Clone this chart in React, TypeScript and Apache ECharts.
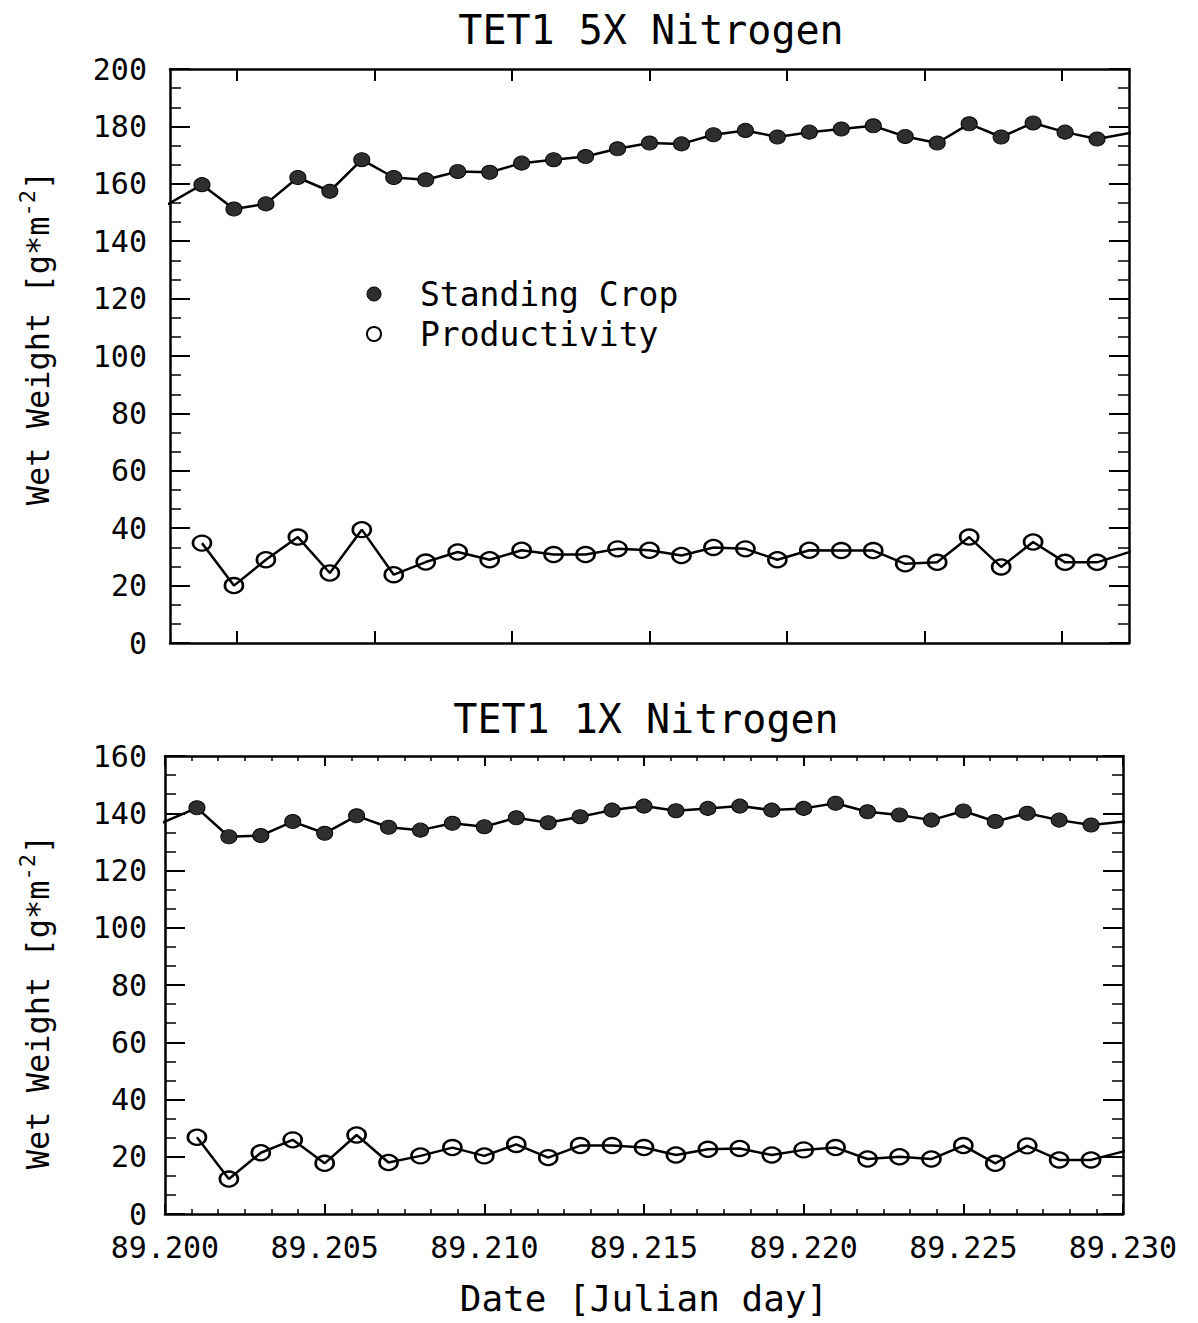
import React, { useEffect, useRef } from 'react';
import * as echarts from 'echarts';

// ---------- data ----------
const sampleDays = [
  89.201, 89.202, 89.203, 89.204, 89.205, 89.206, 89.207, 89.208, 89.209, 89.21,
  89.211, 89.212, 89.213, 89.214, 89.215, 89.216, 89.217, 89.218, 89.219, 89.22,
  89.221, 89.222, 89.223, 89.224, 89.225, 89.226, 89.227, 89.228, 89.229,
];
// neighbouring samples just outside the plotted window (only their connecting lines show)
const edgeDays = [89.1999, 89.2301];

const crop5X = [
  159.7, 151.2, 153.0, 162.2, 157.4, 168.4, 162.2, 161.4, 164.3, 164.0,
  167.2, 168.4, 169.5, 172.2, 174.2, 173.9, 177.1, 178.6, 176.3, 178.0,
  179.1, 180.2, 176.5, 174.2, 180.9, 176.3, 181.2, 178.0, 175.6,
];
const crop5XEdges = [152.7, 177.9];
const prod5X = [
  34.8, 20.0, 29.0, 36.9, 24.4, 39.5, 23.8, 28.2, 31.7, 29.0,
  32.3, 30.8, 30.8, 32.8, 32.3, 30.5, 33.3, 32.8, 29.0, 32.3,
  32.2, 32.2, 27.6, 28.1, 36.9, 26.5, 35.2, 28.1, 28.1,
];
const prod5XTail = 32.0;

const crop1X = [
  141.9, 131.8, 132.2, 137.1, 133.0, 139.1, 135.1, 134.1, 136.5, 135.3,
  138.4, 136.7, 138.8, 141.1, 142.5, 140.9, 141.7, 142.5, 141.1, 141.7,
  143.5, 140.5, 139.4, 137.6, 140.8, 137.1, 140.0, 137.6, 135.9,
];
const crop1XEdges = [136.6, 137.2];
const prod1X = [
  26.8, 12.2, 21.4, 25.9, 17.7, 27.6, 18.0, 20.3, 23.2, 20.3,
  24.3, 19.7, 23.9, 23.9, 23.2, 20.6, 22.6, 22.9, 20.6, 22.4,
  23.2, 19.2, 20.0, 19.2, 23.9, 17.7, 23.8, 18.9, 18.9,
];
const prod1XTail = 22.1;

// frame tick positions of the upper panel (unlabelled)
const topFrameTickDays = [89.2021, 89.2064, 89.2107, 89.215, 89.2193, 89.2236, 89.2279];

const titles = ['TET1 5X Nitrogen', 'TET1 1X Nitrogen'];
const seriesNames = ['Standing Crop', 'Productivity'];
const yAxisTitle = '{n|Wet Weight [g*m}{s|-2}{n|]}';
const xAxisTitle = 'Date [Julian day]';

// ---------- styling ----------
const FONT = "'DejaVu Sans Mono', 'Liberation Mono', monospace";
const BLACK = '#000';

function pairs(days: number[], vals: number[]) {
  return days.map((d, i) => [d, vals[i]]);
}

const cropStyle = {
  type: 'line' as const,
  symbol: 'circle',
  symbolSize: [16, 14],
  itemStyle: { color: '#2e2e2e', borderColor: BLACK, borderWidth: 1 },
  lineStyle: { color: BLACK, width: 2.5 },
  clip: true,
};
const prodStyle = {
  type: 'line' as const,
  symbol: 'circle',
  symbolSize: [18, 15],
  itemStyle: { color: 'rgba(0,0,0,0)', borderColor: BLACK, borderWidth: 2.5 },
  lineStyle: { color: BLACK, width: 2.5 },
  clip: true,
};

const axisLine = { show: true, onZero: false, lineStyle: { color: BLACK, width: 2.5 } };

function yAxisFor(
  gridIndex: number,
  max: number,
  position: 'left' | 'right',
  labelMargin: number,
  nameGap: number,
  namePadding: number[],
) {
  const left = position === 'left';
  return {
    type: 'value',
    gridIndex,
    position,
    min: 0,
    max,
    interval: 20,
    axisLine,
    axisTick: { show: true, inside: true, length: 20, lineStyle: { color: BLACK, width: 2 } },
    minorTick: { show: true, splitNumber: 3, length: 11, lineStyle: { color: BLACK, width: 1.5 } },
    splitLine: { show: false },
    minorSplitLine: { show: false },
    axisLabel: { show: left, margin: labelMargin, fontSize: 30, color: BLACK, fontFamily: FONT },
    name: left ? yAxisTitle : '',
    nameLocation: 'middle',
    nameGap,
    nameRotate: 90,
    nameTextStyle: {
      color: BLACK,
      fontFamily: FONT,
      padding: namePadding,
      rich: {
        n: { fontSize: 32, fontFamily: FONT, color: BLACK, lineHeight: 44 },
        s: { fontSize: 22, fontFamily: FONT, color: BLACK, verticalAlign: 'top', lineHeight: 22 },
      },
    },
  };
}

function topPanelX(position: 'top' | 'bottom') {
  return {
    type: 'value',
    gridIndex: 0,
    position,
    min: 89.2,
    max: 89.23,
    axisLine,
    axisTick: {
      show: true,
      inside: true,
      length: 12,
      customValues: topFrameTickDays,
      lineStyle: { color: BLACK, width: 2 },
    },
    axisLabel: { show: false },
    splitLine: { show: false },
  };
}

function bottomPanelX(position: 'top' | 'bottom') {
  const bottom = position === 'bottom';
  return {
    type: 'value',
    gridIndex: 1,
    position,
    min: 89.2,
    max: 89.23,
    interval: 0.005,
    axisLine,
    axisTick: { show: true, inside: true, length: 10, lineStyle: { color: BLACK, width: 2 } },
    minorTick: { show: true, splitNumber: 6, length: 5, lineStyle: { color: BLACK, width: 1.5 } },
    splitLine: { show: false },
    minorSplitLine: { show: false },
    axisLabel: {
      show: bottom,
      margin: 18,
      fontSize: 30,
      color: BLACK,
      fontFamily: FONT,
      formatter: (v: number) => v.toFixed(3),
    },
    name: bottom ? xAxisTitle : '',
    nameLocation: 'middle',
    nameGap: 66,
    nameTextStyle: { fontSize: 36, color: BLACK, fontFamily: FONT },
  };
}

const option = {
  animation: false,
  backgroundColor: '#fff',
  textStyle: { fontFamily: FONT, color: BLACK },
  grid: [
    { left: 170, top: 69, width: 959, height: 574, containLabel: false },
    { left: 165, top: 756, width: 958, height: 458, containLabel: false },
  ],
  xAxis: [topPanelX('bottom'), topPanelX('top'), bottomPanelX('bottom'), bottomPanelX('top')],
  yAxis: [
    yAxisFor(0, 200, 'left', 23, 110, [0, 0, 0, 36]),
    yAxisFor(0, 200, 'right', 8, 0, [0, 0, 0, 0]),
    yAxisFor(1, 160, 'left', 18, 105, [0, 34, 0, 0]),
    yAxisFor(1, 160, 'right', 8, 0, [0, 0, 0, 0]),
  ],
  legend: {
    show: true,
    orient: 'vertical',
    left: 361,
    top: 270,
    itemWidth: 14,
    itemHeight: 14,
    itemGap: 2,
    textStyle: { fontSize: 33, lineHeight: 38, fontFamily: FONT, color: BLACK, padding: [0, 0, 0, 34] },
    data: [
      { name: seriesNames[0], icon: 'circle', itemStyle: { color: '#2e2e2e', borderColor: BLACK, borderWidth: 1 } },
      { name: seriesNames[1], icon: 'circle', itemStyle: { color: '#fff', borderColor: BLACK, borderWidth: 2 } },
    ],
  },
  graphic: [
    {
      type: 'text',
      x: 651,
      y: 30,
      style: { text: titles[0], fontSize: 40, fontFamily: FONT, fill: BLACK, align: 'center', verticalAlign: 'middle' },
    },
    {
      type: 'text',
      x: 646,
      y: 719,
      style: { text: titles[1], fontSize: 40, fontFamily: FONT, fill: BLACK, align: 'center', verticalAlign: 'middle' },
    },
  ],
  series: [
    {
      ...cropStyle,
      name: seriesNames[0],
      xAxisIndex: 0,
      yAxisIndex: 0,
      data: [[edgeDays[0], crop5XEdges[0]], ...pairs(sampleDays, crop5X), [edgeDays[1], crop5XEdges[1]]],
    },
    {
      ...prodStyle,
      name: seriesNames[1],
      xAxisIndex: 0,
      yAxisIndex: 0,
      data: [...pairs(sampleDays, prod5X), [edgeDays[1], prod5XTail]],
    },
    {
      ...cropStyle,
      name: seriesNames[0],
      xAxisIndex: 2,
      yAxisIndex: 2,
      data: [[edgeDays[0], crop1XEdges[0]], ...pairs(sampleDays, crop1X), [edgeDays[1], crop1XEdges[1]]],
    },
    {
      ...prodStyle,
      name: seriesNames[1],
      xAxisIndex: 2,
      yAxisIndex: 2,
      data: [...pairs(sampleDays, prod1X), [edgeDays[1], prod1XTail]],
    },
  ],
};

export default function App() {
  const ref = useRef<HTMLDivElement>(null);
  useEffect(() => {
    if (!ref.current) return;
    const chart = echarts.init(ref.current, null, { renderer: 'svg' });
    chart.setOption(option as any);
    return () => chart.dispose();
  }, []);
  return (
    <div
      ref={ref}
      style={{ position: 'absolute', left: 0, top: 0, width: 1198, height: 1323, background: '#fff' }}
    />
  );
}
